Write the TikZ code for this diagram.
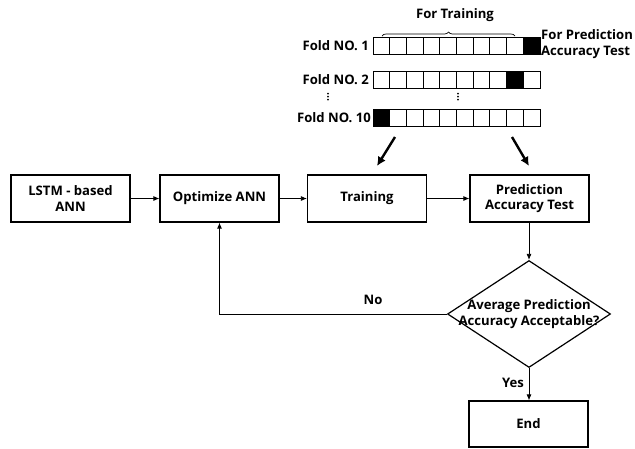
\documentclass[tikz,border=0pt]{standalone}
\usepackage{fontspec}
\setmainfont{Open Sans}
\usetikzlibrary{arrows.meta,shapes.geometric,decorations.pathreplacing}
\begin{document}
\begin{tikzpicture}[x=1pt,y=-1pt,
  font=\fontsize{13.1}{15.5}\selectfont\bfseries,
  box/.style={draw,line width=1.2pt,minimum width=119pt,minimum height=47pt,inner sep=2pt,align=center},
  conn/.style={line width=0.8pt,-{Latex[length=6pt,width=5pt]}},
  bigarrow/.style={line width=2.4pt,-{Latex[length=9pt,width=9pt]}},
  cell/.style={draw,line width=0.9pt},
  vdot/.style={fill=black,circle,inner sep=0pt,minimum size=2pt}]
\useasboundingbox (0,0) rectangle (635,448);
% fold strips
\def\cw{16.7}
\foreach \y/\b in {37/10,71/9,109/1}{
  \foreach \i in {1,...,10}{
    \pgfmathsetmacro{\xa}{373+(\i-1)*\cw}
    \pgfmathsetmacro{\xb}{373+\i*\cw}
    \ifnum\i=\b
      \fill[black] (\xa,\y) rectangle (\xb,\y+17);
    \fi
    \draw[cell] (\xa,\y) rectangle (\xb,\y+17);
  }
}
\node[anchor=east,inner sep=1pt] (f1) at (370,45.5) {Fold NO. 1};
\node[anchor=east,inner sep=1pt] (f2) at (370,79.5) {Fold NO. 2};
\node[anchor=east,inner sep=1pt] (f10) at (372,117.5) {Fold NO. 10};
\foreach \xx in {328,458}{
  \foreach \yy in {93.5,96.5,99.5}{
    \node[vdot] at (\xx,\yy) {};
  }
}
\draw[line width=0.7pt,decorate,decoration={brace,amplitude=4pt}] (382,36) -- (515,36);
\node (ftr) at (455,15) {For Training};
\node[anchor=west,align=left,inner sep=0pt] (fpt) at (541,44) {For Prediction\\Accuracy Test};
% main boxes
\node[box] (lstm) at (70.5,198.5) {LSTM - based\\ANN};
\node[box] (opt) at (219.5,198.5) {Optimize ANN};
\node[box] (train) at (367,198.5) {Training};
\node[box] (pred) at (529.5,198.5) {Prediction\\Accuracy Test};
\node[diamond,draw,line width=1.2pt,minimum width=163pt,minimum height=107pt,inner sep=0pt] (dia) at (529,314) {};
\node[align=center,inner sep=0pt] (diat) at (529,314) {Average Prediction\\Accuracy Acceptable?};
\node[box,minimum height=46pt] (end) at (528.5,424) {End};
% connectors
\draw[conn] (lstm) -- (opt);
\draw[conn] (opt) -- (train);
\draw[conn] (train) -- (pred);
\draw[conn] (pred.south -| dia.north) -- (dia.north);
\draw[conn] (dia.south) -- (end.north -| dia.south);
\draw[conn] (dia.west) -| (opt.south);
\node (no) at (373,300) {No};
\node (yes) at (513,383) {Yes};
% thick arrows
\coordinate (a1s) at (395,137); \coordinate (a1e) at (377,166);
\coordinate (a2s) at (512,137); \coordinate (a2e) at (529,166);
\draw[bigarrow] (a1s) -- (a1e);
\draw[bigarrow] (a2s) -- (a2e);
\end{tikzpicture}
\end{document}
